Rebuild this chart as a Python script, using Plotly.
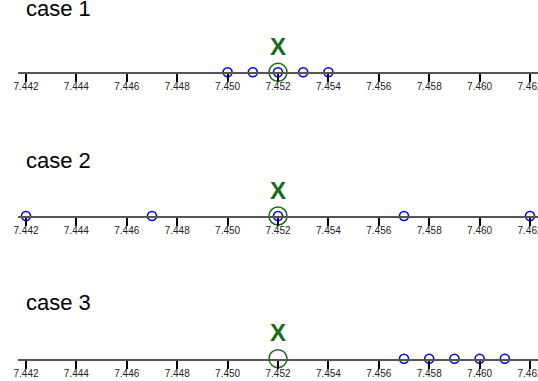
import plotly.graph_objects as go

case_names = ["case 1", "case 2", "case 3"]
case1_values = [7.450, 7.451, 7.452, 7.453, 7.454]
case2_values = [7.442, 7.447, 7.452, 7.457, 7.462]
case3_values = [7.457, 7.458, 7.459, 7.460, 7.461]
true_value = 7.452
true_label = "X"
tick_values = [7.442, 7.444, 7.446, 7.448, 7.450, 7.452, 7.454, 7.456, 7.458, 7.460, 7.462]
tick_labels = ["7.442", "7.444", "7.446", "7.448", "7.450", "7.452",
               "7.454", "7.456", "7.458", "7.460", "7.462"]

all_cases = [case1_values, case2_values, case3_values]

W, H = 538, 381
line_px = [72.3, 216.0, 358.7]  # vertical pixel position of each number line
label_offset = [64, 56, 56]     # height of the "case" label above its line
span_px = 70.0

fig = go.Figure()
layout = dict(
    width=W, height=H,
    margin=dict(l=18, r=0, t=0, b=0, autoexpand=False),
    paper_bgcolor="white", plot_bgcolor="white",
    showlegend=False,
    font=dict(family="Liberation Sans, Arial, sans-serif"),
)
annotations = []
x_range = [7.441683, 7.462317]

for i, (name, vals) in enumerate(zip(case_names, all_cases)):
    k = "" if i == 0 else str(i + 1)
    bottom = 1 - line_px[i] / H
    top = bottom + span_px / H
    xa = "x" + k
    ya = "y" + k
    # true value: big green circle
    fig.add_trace(go.Scatter(
        x=[true_value], y=[0], mode="markers", xaxis=xa, yaxis=ya,
        marker=dict(symbol="circle-open", size=18, color="#1a6b1a",
                    line=dict(width=1.5, color="#1a6b1a")),
        cliponaxis=False, hoverinfo="x"))
    # measured values: blue open circles
    fig.add_trace(go.Scatter(
        x=vals, y=[0] * len(vals), mode="markers", xaxis=xa, yaxis=ya,
        marker=dict(symbol="circle-open", size=9, color="#0000ff",
                    line=dict(width=1.6, color="#0000ff")),
        cliponaxis=False, hoverinfo="x"))
    layout["xaxis" + k] = dict(
        domain=[0, 1], range=x_range, anchor=ya, automargin=False,
        showline=True, linecolor="#555555", linewidth=2,
        ticks="outside", ticklen=8, tickwidth=1.5, tickcolor="black",
        tickvals=tick_values, ticktext=tick_labels,
        tickfont=dict(size=10, color="#222222"),
        ticklabeloverflow="allow", ticklabelstandoff=-4,
        showgrid=False, zeroline=False, fixedrange=True,
    )
    layout["yaxis" + k] = dict(
        domain=[bottom, min(top, 1.0)], range=[0, span_px * (min(top, 1.0) - bottom) / (top - bottom)],
        anchor=xa, visible=False, fixedrange=True, automargin=False,
    )
    annotations.append(dict(
        x=7.44193, y=label_offset[i], xref=xa, yref=ya, text=name, showarrow=False,
        xanchor="left", yanchor="middle",
        font=dict(size=22, color="black")))
    annotations.append(dict(
        x=true_value, y=26, xref=xa, yref=ya, text="<b>" + true_label + "</b>",
        showarrow=False, xanchor="center", yanchor="middle",
        font=dict(size=24, color="#1a6b1a")))

layout["annotations"] = annotations
fig.update_layout(**layout)
fig.write_html(
    "out.html",
    config={"displayModeBar": False},
    post_script="document.body.style.margin='0';document.body.style.overflow='hidden';",
)
